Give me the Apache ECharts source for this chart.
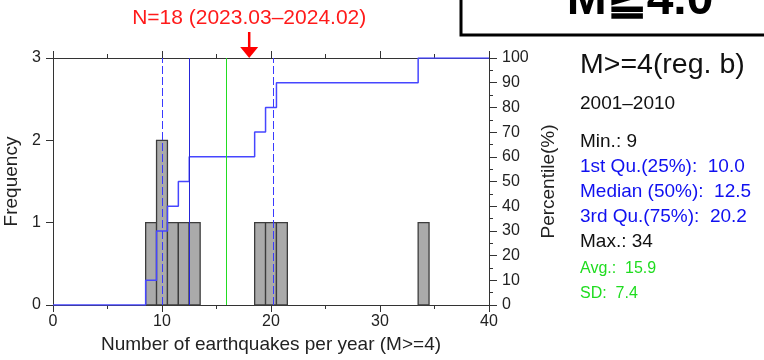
<!DOCTYPE html>
<html>
<head>
<meta charset="utf-8">
<script src="https://cdn.jsdelivr.net/npm/echarts@6/dist/echarts.min.js"></script>
<style>
html,body{margin:0;padding:0;background:#fff;}
#c{width:764px;height:360px;}
</style>
</head>
<body>
<div id="c"></div>
<script>
// ---- data ----
const binCenters = [9, 10, 11, 12, 13, 19, 20, 21, 34];
const frequency  = [1, 2, 1, 1, 1, 1, 1, 1, 1];
const binWidth = 1;
const xTicks = [0, 10, 20, 30, 40];
const quartile1 = 10.0;
const medianVal = 12.5;
const quartile3 = 20.2;
const meanVal = 15.9;
const currentN = 18;
const currentPeriod = '2023.03\u20132024.02';
const panelTitle = 'M>=4(reg. b)';
const panelPeriod = '2001\u20132010';
const statLines = [
  'Min.: 9',
  '1st Qu.(25%):  10.0',
  'Median (50%):  12.5',
  '3rd Qu.(75%):  20.2',
  'Max.: 34',
  'Avg.:  15.9',
  'SD:  7.4'
];
const statColors = ['#111', '#1010f0', '#1010f0', '#1010f0', '#111', '#1fdc1f', '#1fdc1f'];

// cumulative percentage (step line), built from the histogram
const total = frequency.reduce((a, b) => a + b, 0);
const ecdf = [[xTicks[0], 0]];
let cum = 0;
binCenters.forEach((c, i) => {
  cum += frequency[i];
  ecdf.push([c - binWidth / 2, Math.round(cum / total * 1000) / 10]);
});
ecdf.push([xTicks[xTicks.length - 1], 100]);

const FONT = 'Liberation Sans, Arial, Helvetica, sans-serif';
const axisCol = '#333';

const chart = echarts.init(document.getElementById('c'), null, {renderer: 'canvas'});

const textY = [141.7, 166.7, 191.7, 216.7, 241.7, 268.3, 293.3];
const textSize = [19, 19, 19, 19, 19, 16, 16];
const graphics = [
  {type: 'rect', shape: {x: 461, y: -20, width: 400, height: 55}, style: {fill: '#fff', stroke: '#000', lineWidth: 3}, z: 10},
  {type: 'text', x: 640, y: 25, style: {text: 'M\u22674.0', font: 'bold 48px ' + FONT, fill: '#000', align: 'center', verticalAlign: 'bottom'}, z: 11},
  {type: 'text', x: 580, y: 65, style: {text: panelTitle, font: '28.5px ' + FONT, fill: '#111', align: 'left', verticalAlign: 'middle'}},
  {type: 'text', x: 580, y: 103.3, style: {text: panelPeriod, font: '19px ' + FONT, fill: '#111', align: 'left', verticalAlign: 'middle'}}
];
statLines.forEach((t, i) => {
  graphics.push({type: 'text', x: 580, y: textY[i], style: {text: t, font: textSize[i] + 'px ' + FONT, fill: statColors[i], align: 'left', verticalAlign: 'middle'}});
});

const xAxisCommon = {
  type: 'value', min: xTicks[0], max: xTicks[xTicks.length - 1], interval: 10,
  axisLine: {show: true, onZero: false, lineStyle: {color: axisCol, width: 1}},
  axisTick: {show: true, inside: false, length: 7, lineStyle: {color: axisCol}},
  minorTick: {show: true, splitNumber: 2, length: 4, lineStyle: {color: axisCol}},
  splitLine: {show: false}, minorSplitLine: {show: false}
};

chart.setOption({
  animation: false,
  backgroundColor: '#fff',
  textStyle: {fontFamily: FONT},
  grid: {left: 53, right: 275, top: 58, bottom: 55, containLabel: false, outerBoundsMode: 'none'},
  graphic: graphics,
  xAxis: [
    Object.assign({}, xAxisCommon, {
      position: 'bottom',
      axisLabel: {show: true, fontSize: 16, color: '#222', margin: 9, fontFamily: FONT},
      name: 'Number of earthquakes per year (M>=4)',
      nameLocation: 'middle', nameGap: 28,
      nameTextStyle: {fontSize: 19, color: '#222', fontFamily: FONT}
    }),
    Object.assign({}, xAxisCommon, {
      position: 'top',
      axisLabel: {show: false}
    })
  ],
  yAxis: [
    {
      type: 'value', min: 0, max: 3, interval: 1, position: 'left',
      axisLine: {show: true, onZero: false, lineStyle: {color: axisCol}},
      axisTick: {show: true, inside: false, length: 7, lineStyle: {color: axisCol}},
      minorTick: {show: false},
      axisLabel: {fontSize: 16, color: '#222', margin: 12, fontFamily: FONT},
      splitLine: {show: false}, minorSplitLine: {show: false},
      name: 'Frequency', nameLocation: 'middle', nameGap: 27, nameRotate: 90,
      nameTextStyle: {fontSize: 19, color: '#222', fontFamily: FONT}
    },
    {
      type: 'value', min: 0, max: 100, interval: 10, position: 'right',
      axisLine: {show: true, onZero: false, lineStyle: {color: axisCol}},
      axisTick: {show: true, inside: false, length: 8, lineStyle: {color: axisCol}},
      minorTick: {show: true, splitNumber: 2, length: 4, lineStyle: {color: axisCol}},
      axisLabel: {fontSize: 16, color: '#222', margin: 13, fontFamily: FONT},
      splitLine: {show: false}, minorSplitLine: {show: false},
      name: 'Percentile(%)', nameLocation: 'middle', nameGap: 50, nameRotate: 90,
      nameTextStyle: {fontSize: 19, color: '#222', fontFamily: FONT}
    }
  ],
  series: [
    {
      type: 'custom', name: 'histogram', xAxisIndex: 0, yAxisIndex: 0,
      data: binCenters.map((c, i) => [c, frequency[i]]),
      encode: {x: 0, y: 1},
      z: 2,
      renderItem: function (params, api) {
        const c = api.value(0), f = api.value(1);
        const p0 = api.coord([c - binWidth / 2, f]);
        const p1 = api.coord([c + binWidth / 2, 0]);
        return {
          type: 'rect',
          shape: {x: p0[0], y: p0[1], width: p1[0] - p0[0], height: p1[1] - p0[1]},
          style: {fill: '#aaaaaa', stroke: '#3c3c3c', lineWidth: 1.3}
        };
      }
    },
    {
      type: 'line', name: 'cumulative', xAxisIndex: 0, yAxisIndex: 1,
      data: ecdf, step: 'end', symbol: 'none', z: 3,
      lineStyle: {color: '#4646ff', width: 1.5},
      markLine: {
        silent: true, symbol: 'none', animation: false,
        label: {show: false},
        data: [
          {xAxis: quartile1, lineStyle: {color: '#3a3aff', width: 1, type: [8, 3]}},
          {xAxis: medianVal, lineStyle: {color: '#2525d8', width: 1, type: 'solid'}},
          {xAxis: quartile3, lineStyle: {color: '#3a3aff', width: 1, type: [8, 3]}},
          {xAxis: meanVal, lineStyle: {color: '#22dd22', width: 1, type: 'solid'}}
        ]
      }
    },
    {
      type: 'custom', name: 'current', xAxisIndex: 0, yAxisIndex: 0,
      data: [[currentN, 3]], encode: {x: 0, y: 1}, z: 5, clip: false,
      renderItem: function (params, api) {
        const p = api.coord([api.value(0), api.value(1)]);
        return {
          type: 'group',
          children: [
            {type: 'line', shape: {x1: p[0], y1: p[1] - 26, x2: p[0], y2: p[1] - 10}, style: {stroke: '#ff0000', lineWidth: 2.5}},
            {type: 'polygon', shape: {points: [[p[0] - 9, p[1] - 11], [p[0] + 9, p[1] - 11], [p[0], p[1]]]}, style: {fill: '#ff0000'}},
            {type: 'text', x: p[0], y: p[1] - 40, style: {text: 'N=' + currentN + ' (' + currentPeriod + ')', font: '21px ' + FONT, fill: '#ff1a1a', align: 'center', verticalAlign: 'middle'}}
          ]
        };
      }
    }
  ]
});
</script>
</body>
</html>
